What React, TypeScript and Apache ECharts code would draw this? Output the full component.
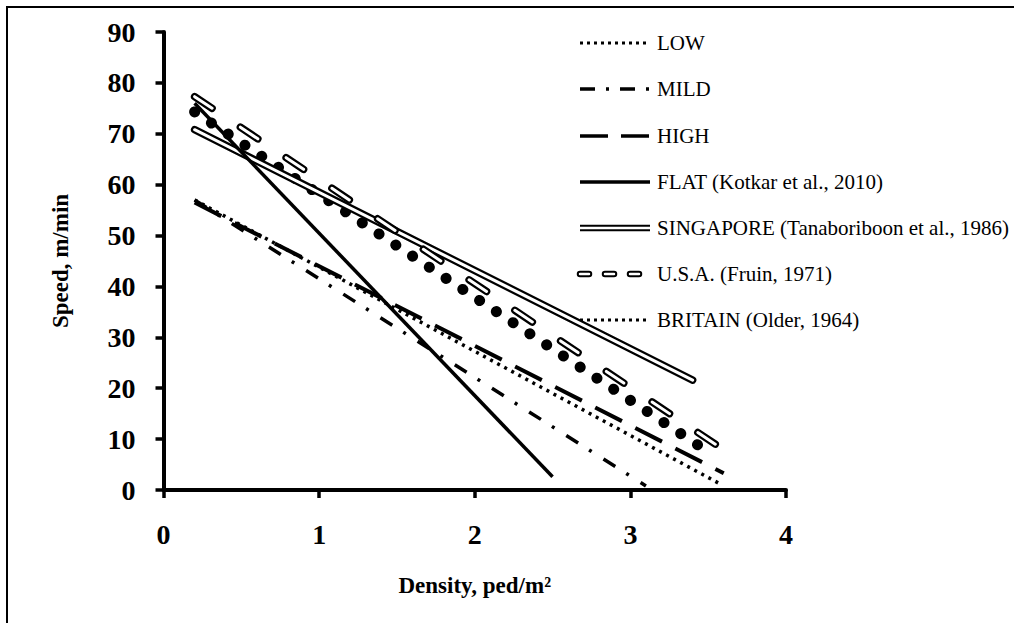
import React, { useEffect, useRef } from "react";
import * as echarts from "echarts";

// Density (ped/m²) endpoints and speed (m/min) values for each relationship
const lowX = [0.2, 3.57];
const lowY = [57, 1.3];
const mildX = [0.2, 3.1];
const mildY = [57, 0.8];
const highX = [0.2, 3.6];
const highY = [56.5, 3.3];
const flatX = [0.2, 2.5];
const flatY = [76, 2.6];
const singaporeX = [0.2, 3.4];
const singaporeY = [70.8, 21.6];
const usaX = [0.2, 3.6];
const usaY = [77.3, 7.9];
const britainX = [0.2, 3.5];
const britainY = [74.3, 7.5];

const legendLabels = [
  "LOW",
  "MILD",
  "HIGH",
  "FLAT (Kotkar et al., 2010)",
  "SINGAPORE (Tanaboriboon et al., 1986)",
  "U.S.A. (Fruin, 1971)",
  "BRITAIN (Older, 1964)",
];

const xTicks = [0, 1, 2, 3, 4];
const yTicks = [0, 10, 20, 30, 40, 50, 60, 70, 80, 90];

const FONT = "Liberation Serif";

function pairs(xs: number[], ys: number[]) {
  return xs.map((x, i) => [x, ys[i]]);
}

function lineSeries(name: string, data: number[][], lineStyle: any, z = 2) {
  return {
    name,
    type: "line",
    data,
    symbol: "none",
    showSymbol: false,
    silent: true,
    z,
    lineStyle: { color: "#000", ...lineStyle },
  };
}

export default function App() {
  const ref = useRef<HTMLDivElement>(null);

  useEffect(() => {
    document.body.style.margin = "0";
    const chart = echarts.init(ref.current!, null, { renderer: "svg" });

    const legendYs = [43, 89, 136, 182, 228, 274, 320];
    const lx1 = 580;
    const lx2 = 650;
    const legendGraphics: any[] = [];
    const mk = (y: number, style: any) => ({
      type: "line",
      shape: { x1: lx1, y1: y, x2: lx2, y2: y },
      style: { stroke: "#000", ...style },
      silent: true,
    });
    // LOW
    legendGraphics.push(mk(legendYs[0], { lineWidth: 3, lineDash: [3, 4] }));
    // MILD
    legendGraphics.push(mk(legendYs[1], { lineWidth: 3.5, lineDash: [15, 11, 3, 11] }));
    // HIGH
    legendGraphics.push(mk(legendYs[2], { lineWidth: 3.5, lineDash: [28, 13] }));
    // FLAT
    legendGraphics.push(mk(legendYs[3], { lineWidth: 3.5 }));
    // SINGAPORE
    legendGraphics.push(mk(legendYs[4], { lineWidth: 6.5 }));
    legendGraphics.push(mk(legendYs[4], { lineWidth: 2.5, stroke: "#fff" }));
    // USA
    legendGraphics.push(mk(legendYs[5], { lineWidth: 6.5, lineDash: [9, 16], lineCap: "round" }));
    legendGraphics.push(mk(legendYs[5], { lineWidth: 2.5, lineDash: [9, 16], lineCap: "round", stroke: "#fff" }));
    // BRITAIN
    legendGraphics.push(mk(legendYs[6], { lineWidth: 3, lineDash: [3, 4] }));

    legendLabels.forEach((t, i) => {
      legendGraphics.push({
        type: "text",
        x: 657,
        y: legendYs[i],
        silent: true,
        style: {
          text: t,
          fill: "#000",
          fontFamily: FONT,
          fontSize: 21,
          fontWeight: "normal",
          verticalAlign: "middle",
          align: "left",
        },
      });
    });

    legendGraphics.push({
      type: "rect",
      shape: { x: 7, y: 7, width: 1010, height: 620 },
      style: { fill: "none", stroke: "#000", lineWidth: 2 },
      silent: true,
      z: -10,
    });

    chart.setOption({
      animation: false,
      backgroundColor: "#fff",
      grid: { left: 163.5, right: 228, top: 32, bottom: 133, containLabel: false },
      xAxis: {
        type: "value",
        min: xTicks[0],
        max: xTicks[xTicks.length - 1],
        interval: 1,
        name: "Density, ped/m²",
        nameLocation: "middle",
        nameGap: 84,
        nameTextStyle: { fontFamily: FONT, fontWeight: "bold", fontSize: 23, color: "#000" },
        axisLine: { show: true, onZero: false, lineStyle: { color: "#000", width: 4 } },
        axisTick: { show: true, inside: false, length: 8, lineStyle: { color: "#000", width: 3.5 } },
        axisLabel: { fontFamily: FONT, fontWeight: "bold", fontSize: 28, color: "#000", margin: 30 },
        splitLine: { show: false },
      },
      yAxis: {
        type: "value",
        min: yTicks[0],
        max: yTicks[yTicks.length - 1],
        interval: 10,
        name: "Speed, m/min",
        nameLocation: "middle",
        nameGap: 92,
        nameRotate: 90,
        nameTextStyle: { fontFamily: FONT, fontWeight: "bold", fontSize: 23, color: "#000" },
        axisLine: { show: true, onZero: false, lineStyle: { color: "#000", width: 4 } },
        axisTick: { show: true, inside: false, length: 8, lineStyle: { color: "#000", width: 3.5 } },
        axisLabel: { fontFamily: FONT, fontWeight: "bold", fontSize: 28, color: "#000", margin: 28 },
        splitLine: { show: false },
      },
      graphic: legendGraphics,
      series: [
        lineSeries("BRITAIN (Older, 1964)", pairs(britainX, britainY), {
          width: 11,
          type: [0.1, 20],
          cap: "round",
        }, 2),
        lineSeries("LOW", pairs(lowX, lowY), { width: 3.5, type: [3, 5] }, 3),
        lineSeries("MILD", pairs(mildX, mildY), { width: 3.5, type: [14, 13, 3, 14] }, 3),
        lineSeries("HIGH", pairs(highX, highY), { width: 4, type: [30, 15] }, 3),
        lineSeries("SINGAPORE", pairs(singaporeX, singaporeY), { width: 7.5, cap: "round" }, 3),
        lineSeries("SINGAPORE-inner", pairs(singaporeX, singaporeY), { width: 3, color: "#fff", cap: "round" }, 4),
        lineSeries("FLAT (Kotkar et al., 2010)", pairs(flatX, flatY), { width: 3.5 }, 5),
        lineSeries("U.S.A. (Fruin, 1971)", pairs(usaX, usaY), { width: 7.5, type: [21, 34], cap: "round" }, 6),
        lineSeries("U.S.A.-inner", pairs(usaX, usaY), { width: 3, type: [21, 34], cap: "round", color: "#fff" }, 7),
      ],
    });

    return () => chart.dispose();
  }, []);

  return (
    <div
      ref={ref}
      style={{ position: "absolute", left: 0, top: 0, width: 1014, height: 623, background: "#fff" }}
    />
  );
}
